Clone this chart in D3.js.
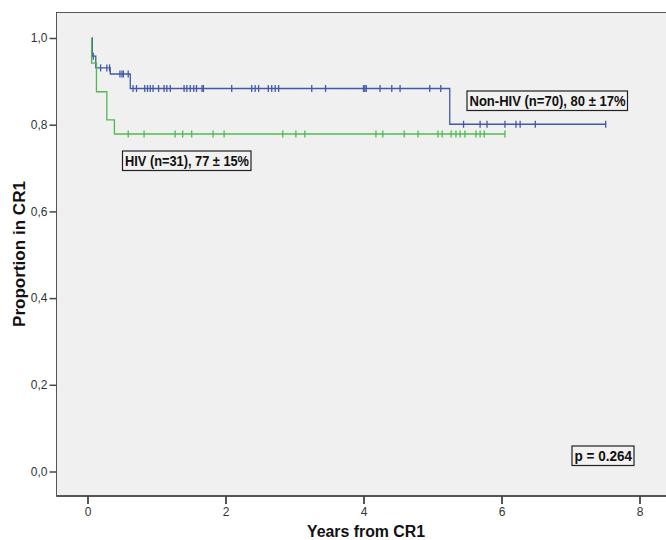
<!DOCTYPE html>
<html>
<head>
<meta charset="utf-8">
<script src="https://cdn.jsdelivr.net/npm/d3@7"></script>
<style>
  html, body { margin: 0; padding: 0; background: #ffffff; }
  svg { display: block; }
  text { font-family: "Liberation Sans", Arial, sans-serif; }
</style>
</head>
<body>
<svg id="chart" width="666" height="540"></svg>
<script>
// ---------- data ----------
const xTicks = [0, 2, 4, 6, 8];
const yTicks = [0, 0.2, 0.4, 0.6, 0.8, 1.0];
const yTickLabels = ["0,0", "0,2", "0,4", "0,6", "0,8", "1,0"];

// Non-HIV (blue) Kaplan-Meier steps: time (years) and survival after the step
const nonHivTimes = [0.06, 0.07, 0.12, 0.33, 0.62, 5.25, 7.51];
const nonHivSurv  = [1.0, 0.958, 0.931, 0.917, 0.8835, 0.801, 0.801];
const nonHivCensored = [0.084, 0.19, 0.28, 0.32, 0.47, 0.50, 0.52, 0.59,
  0.66, 0.71, 0.83, 0.87, 0.91, 0.95, 1.03, 1.11, 1.15, 1.20, 1.40, 1.44, 1.49,
  1.54, 1.58, 1.66, 1.68, 2.09, 2.38, 2.43, 2.48, 2.62, 2.67, 2.72, 2.77, 3.25,
  3.45, 4.00, 4.02, 4.04, 4.24, 4.41, 4.53, 4.96, 5.12,
  5.45, 5.69, 5.79, 6.05, 6.21, 6.27, 6.49, 7.51];

// HIV (green) Kaplan-Meier steps
const hivTimes = [0.06, 0.06, 0.13, 0.28, 0.39, 6.05];
const hivSurv  = [1.0, 0.942, 0.876, 0.811, 0.7785, 0.7785];
const hivCensored = [0.59, 0.82, 1.27, 1.38, 1.51, 1.82, 1.98, 2.83, 3.02, 3.15,
  4.18, 4.28, 4.59, 4.79, 5.08, 5.14, 5.27, 5.34, 5.40, 5.47, 5.63, 5.69, 5.75, 6.05];

const labelHiv = "HIV (n=31), 77 ± 15%";
const labelNonHiv = "Non-HIV (n=70), 80 ± 17%";
const labelP = "p = 0.264";
const xTitle = "Years from CR1";
const yTitle = "Proportion in CR1";

// ---------- layout ----------
const svg = d3.select("#chart");
const plotLeft = 56.5, plotTop = 12.5, plotBottom = 496, plotRight = 700;
const x = d3.scaleLinear().domain([0, 8]).range([87.5, 639.5]);
const y = d3.scaleLinear().domain([0, 1]).range([471.5, 38]);
const blue = "#4259aa", green = "#4fba4f";

// plot background
svg.append("rect")
  .attr("x", plotLeft).attr("y", plotTop)
  .attr("width", plotRight - plotLeft).attr("height", plotBottom - plotTop)
  .attr("fill", "#f0f0f0")
  .attr("stroke", "#555").attr("stroke-width", 1);

// bottom axis line (thicker)
svg.append("line")
  .attr("x1", plotLeft).attr("x2", 666)
  .attr("y1", plotBottom).attr("y2", plotBottom)
  .attr("stroke", "#555").attr("stroke-width", 2.2);

// x axis
const xAxis = d3.axisBottom(x).tickValues(xTicks).tickFormat(d3.format("d"))
  .tickSize(8).tickPadding(3);
const gx = svg.append("g").attr("transform", `translate(0,${plotBottom})`).call(xAxis);
gx.select(".domain").remove();
gx.selectAll(".tick line").attr("stroke", "#444").attr("stroke-width", 1.8);
gx.selectAll(".tick text").attr("font-size", 12).attr("fill", "#333")
  .attr("font-family", "Liberation Sans, Arial, sans-serif");

// y axis
const yAxis = d3.axisLeft(y).tickValues(yTicks)
  .tickFormat((d, i) => yTickLabels[i]).tickSize(7).tickPadding(2);
const gy = svg.append("g").attr("transform", `translate(${plotLeft},0)`).call(yAxis);
gy.select(".domain").remove();
gy.selectAll(".tick line").attr("stroke", "#444").attr("stroke-width", 1.5);
gy.selectAll(".tick text").attr("font-size", 12).attr("fill", "#333")
  .attr("font-family", "Liberation Sans, Arial, sans-serif");

// axis titles
svg.append("text")
  .attr("x", 366).attr("y", 537)
  .attr("text-anchor", "middle")
  .attr("font-size", 16).attr("font-weight", "bold").attr("fill", "#111")
  .attr("textLength", 118).attr("lengthAdjust", "spacingAndGlyphs")
  .text(xTitle);
svg.append("text")
  .attr("transform", "translate(25,254) rotate(-90)")
  .attr("text-anchor", "middle")
  .attr("font-size", 16).attr("font-weight", "bold").attr("fill", "#111")
  .attr("textLength", 146).attr("lengthAdjust", "spacingAndGlyphs")
  .text(yTitle);

// curves
function drawKM(times, surv, censored, color) {
  const pts = times.map((t, i) => [t, surv[i]]);
  const line = d3.line().x(d => x(d[0])).y(d => y(d[1])).curve(d3.curveStepAfter);
  svg.append("path").datum(pts)
    .attr("d", line).attr("fill", "none")
    .attr("stroke", color).attr("stroke-width", 1.3);
  // survival at censor time
  const survAt = t => {
    let s = surv[0];
    for (let i = 0; i < times.length; i++) if (times[i] <= t) s = surv[i];
    return s;
  };
  svg.append("g").selectAll("line").data(censored).join("line")
    .attr("x1", d => x(d)).attr("x2", d => x(d))
    .attr("y1", d => y(survAt(d)) - 3.5).attr("y2", d => y(survAt(d)) + 3.5)
    .attr("stroke", color).attr("stroke-width", 1.3);
}
drawKM(nonHivTimes, nonHivSurv, nonHivCensored, blue);
drawKM(hivTimes, hivSurv, hivCensored, green);

// boxed labels
function boxLabel(txt, tx, ty, len) {
  const g = svg.append("g");
  const rect = g.append("rect");
  const t = g.append("text")
    .attr("x", tx).attr("y", ty)
    .attr("font-size", 14).attr("font-weight", "bold").attr("fill", "#111")
    .attr("textLength", len).attr("lengthAdjust", "spacingAndGlyphs")
    .text(txt);
  const b = t.node().getBBox();
  rect.attr("x", tx - 2.5).attr("y", ty - 14.5)
    .attr("width", len + 4.5).attr("height", 19.5)
    .attr("fill", "#f2f2f2").attr("stroke", "#222").attr("stroke-width", 1.2);
}
boxLabel(labelHiv, 125, 165.5, 124);
boxLabel(labelNonHiv, 469.5, 105.5, 156);
boxLabel(labelP, 574.5, 460.5, 57.5);
</script>
</body>
</html>
